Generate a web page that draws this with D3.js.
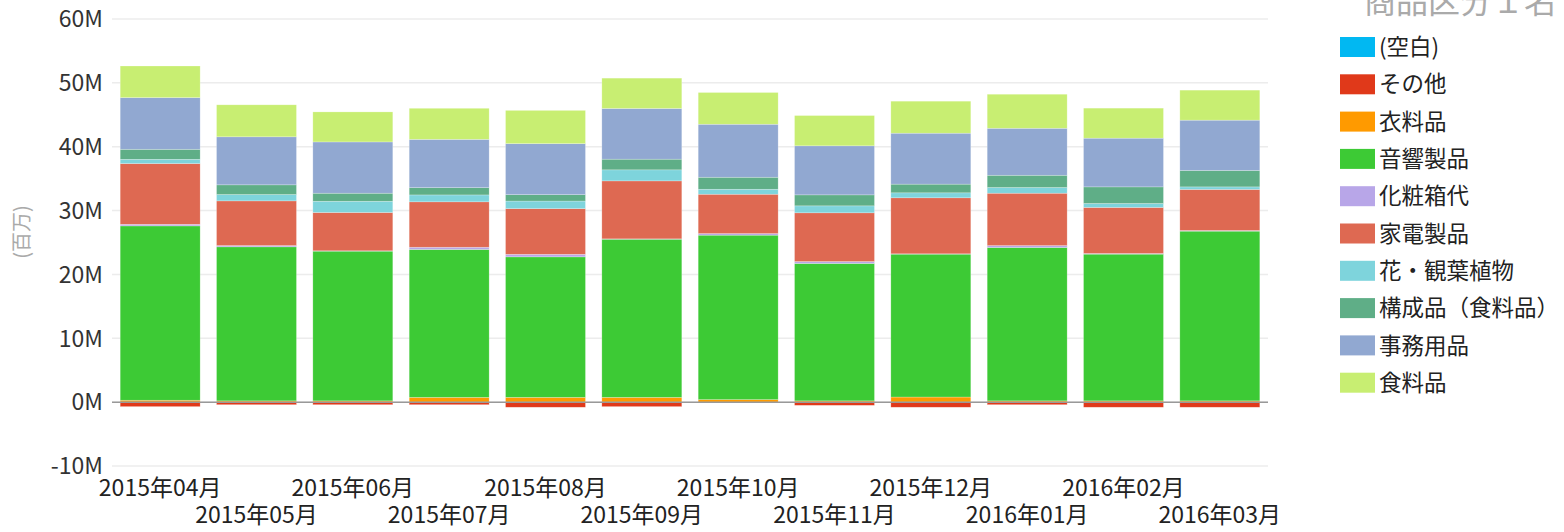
<!DOCTYPE html>
<html>
<head>
<meta charset="utf-8">
<script src="https://cdn.jsdelivr.net/npm/d3@7"></script>
<style>
  body { margin: 0; background: #fff; }
  svg text { font-family: "Noto Sans CJK JP", "Noto Sans", sans-serif; }
</style>
</head>
<body>
<svg id="canvas"></svg>
<script>
// months on the x axis
let months = ["2015年04月","2015年05月","2015年06月","2015年07月","2015年08月","2015年09月",
              "2015年10月","2015年11月","2015年12月","2016年01月","2016年02月","2016年03月"];
let categories = ["(空白)","その他","衣料品","音響製品","化粧箱代","家電製品","花・観葉植物","構成品（食料品）","事務用品","食料品"];
let yTicks = [-10, 0, 10, 20, 30, 40, 50, 60];

// values in millions
let blank      = [0,0,0,0,0,0,0,0,0,0,0,0];
let other      = [-0.7,-0.4,-0.4,-0.4,-0.8,-0.7,-0.1,-0.5,-0.8,-0.4,-0.8,-0.8];
let clothing   = [0.3,0.2,0.2,0.75,0.75,0.75,0.4,0.2,0.8,0.2,0.2,0.2];
let audio      = [27.3,24.12,23.45,23.16,22.0,24.77,25.75,21.52,22.38,24.02,22.98,26.58];
let giftBox    = [0.25,0.2,0.05,0.35,0.4,0.05,0.25,0.3,0.05,0.3,0.1,0.1];
let appliances = [9.51,7.0,6.0,7.11,7.15,9.08,6.16,7.63,8.77,8.2,7.21,6.43];
let plants     = [0.67,0.99,1.76,1.08,1.19,1.73,0.78,1.09,0.78,0.89,0.62,0.4];
let components = [1.57,1.52,1.26,1.14,1.0,1.67,1.88,1.72,1.36,1.92,2.6,2.57];
let office     = [8.09,7.52,8.03,7.56,7.99,7.94,8.3,7.68,7.98,7.36,7.63,7.88];
let food       = [4.95,5.01,4.7,4.87,5.21,4.75,4.97,4.74,5.01,5.33,4.7,4.7];

let colors = ["#01B8F2","#E0391A","#FF9A00","#3DCA35","#B8A6E8","#DE6952","#7ED4DC","#5FAE87","#91A8D1","#C8EE72"];

let width = 1564;
let height = 532;

let svg = d3.select('#canvas').attr('width', width).attr('height', height);

let seriesList = [blank, other, clothing, audio, giftBox, appliances, plants, components, office, food];
let table = months.map((m, i) => {
  let row = { month: m };
  categories.forEach((c, j) => { row[c] = seriesList[j][i] * 1e6; });
  return row;
});

let stacked = d3.stack()
  .keys(categories)
  .offset(d3.stackOffsetDiverging)(table);

let xScale = d3.scaleBand()
  .domain(months)
  .range([112, 1268])
  .paddingInner(0.17)
  .paddingOuter(0.085);

let yScale = d3.scaleLinear()
  .domain([-10e6, 60e6])
  .range([466, 19]);

let color = d3.scaleOrdinal().domain(categories).range(colors);

// gridlines
svg.append('g')
  .selectAll('line')
  .data(yTicks)
  .enter()
  .append('line')
  .attr('x1', 112)
  .attr('x2', 1268)
  .attr('y1', d => yScale(d * 1e6))
  .attr('y2', d => yScale(d * 1e6))
  .attr('stroke', '#ececec')
  .attr('stroke-width', 1.5);

// y labels
svg.append('g')
  .selectAll('text')
  .data(yTicks)
  .enter()
  .append('text')
  .attr('x', 103)
  .attr('y', d => yScale(d * 1e6))
  .attr('dy', '0.36em')
  .attr('text-anchor', 'end')
  .attr('font-size', 23)
  .attr('fill', '#333')
  .text(d => d + 'M');

svg.append('text')
  .attr('transform', 'translate(22,232) rotate(-90)')
  .attr('text-anchor', 'middle')
  .attr('dy', '0.35em')
  .attr('font-size', 20)
  .attr('fill', '#aaa')
  .text('(百万)');

// bars
svg.append('g')
  .selectAll('g')
  .data(stacked)
  .enter()
  .append('g')
  .attr('fill', d => color(d.key))
  .selectAll('rect')
  .data(d => d)
  .enter()
  .append('rect')
  .attr('x', d => xScale(d.data.month))
  .attr('width', xScale.bandwidth())
  .attr('y', d => yScale(Math.max(d[0], d[1])))
  .attr('height', d => Math.abs(yScale(d[0]) - yScale(d[1])))
  .attr('stroke', '#fff')
  .attr('stroke-opacity', 0.4)
  .attr('stroke-width', 0.6);

// zero line
svg.append('line')
  .attr('x1', 112)
  .attr('x2', 1268)
  .attr('y1', yScale(0))
  .attr('y2', yScale(0))
  .attr('stroke', '#999')
  .attr('stroke-width', 1.5);

// x labels, alternating rows
svg.append('g')
  .selectAll('text')
  .data(months)
  .enter()
  .append('text')
  .attr('x', d => xScale(d) + xScale.bandwidth() / 2)
  .attr('y', (d, i) => i % 2 === 0 ? 496 : 523)
  .attr('text-anchor', 'middle')
  .attr('font-size', 23)
  .attr('fill', '#222')
  .text(d => d);

// legend
svg.append('text')
  .attr('x', 1556)
  .attr('y', 13)
  .attr('text-anchor', 'end')
  .attr('font-size', 32)
  .attr('fill', '#aaa')
  .text('商品区分１名');

let legend = svg.append('g')
  .selectAll('g')
  .data(categories)
  .enter()
  .append('g')
  .attr('transform', (d, i) => 'translate(1340,' + (47 + i * 37.3) + ')');

legend.append('rect')
  .attr('x', 0)
  .attr('y', -10)
  .attr('width', 35)
  .attr('height', 20)
  .attr('fill', d => color(d));

legend.append('text')
  .attr('x', 39)
  .attr('y', 0)
  .attr('dy', '0.36em')
  .attr('font-size', 22.5)
  .attr('fill', '#222')
  .text(d => d);
</script>
</body>
</html>
